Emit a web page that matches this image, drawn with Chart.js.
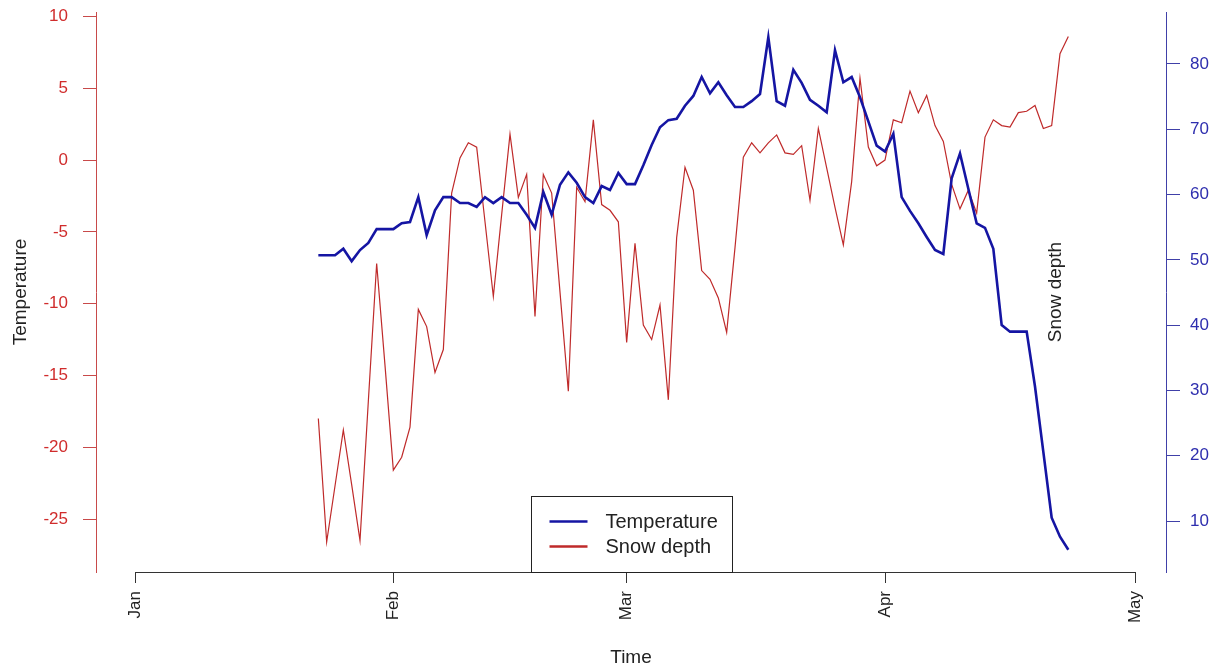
<!DOCTYPE html>
<html><head><meta charset="utf-8">
<script src="https://cdn.jsdelivr.net/npm/chart.js@4/dist/chart.umd.min.js"></script>
<style>html,body{margin:0;padding:0;background:#fff;}#wrap{width:1226px;height:669px;}</style>
</head><body><div id="wrap"><canvas id="c" width="1226" height="669"></canvas></div>
<script>
// ---- data ----
const monthLabels = ['Jan', 'Feb', 'Mar', 'Apr', 'May'];
const monthTickDays = [0, 31, 59, 90, 120];   // days after Jan 1
const firstDay = 22;                          // Jan 23 = first observation
const leftTicks = [-25, -20, -15, -10, -5, 0, 5, 10];
const rightTicks = [10, 20, 30, 40, 50, 60, 70, 80];

// blue series (legend "Temperature"), plotted on the right axis
const blueValues = [
  50.7,50.7,50.7,51.7,49.8,51.5,52.6,54.7,54.7,54.7,
  55.6,55.8,59.6,53.8,57.6,59.6,59.6,58.7,58.7,58.1,
  59.6,58.7,59.6,58.7,58.7,56.9,54.9,60.4,56.9,61.5,
  63.4,61.8,59.6,58.7,61.3,60.7,63.3,61.6,61.6,64.5,
  67.6,70.3,71.4,71.6,73.6,75.1,78.0,75.5,77.2,75.2,
  73.4,73.4,74.3,75.4,84.1,74.3,73.6,79.1,77.1,74.5,
  73.6,72.6,82.1,77.2,78.0,74.9,71.2,67.5,66.6,69.3,
  59.6,57.5,55.6,53.5,51.5,50.9,62.5,66.3,60.9,55.6,
  54.9,51.7,40.0,39.0,39.0,39.0,30.6,20.6,10.5,7.6,
  5.6
];
// red series (legend "Snow depth"), plotted on the left axis
const redValues = [
  -18.0,-26.6,-22.7,-18.8,-22.6,-26.5,-16.8,-7.2,-14.3,-21.6,
  -20.7,-18.6,-10.4,-11.6,-14.8,-13.2,-2.3,0.15,1.2,0.9,
  -4.3,-9.5,-3.8,1.8,-2.6,-1.0,-10.9,-1.0,-2.3,-9.2,
  -16.1,-1.9,-2.9,2.8,-3.1,-3.5,-4.3,-12.7,-5.8,-11.5,
  -12.5,-10.1,-16.7,-5.4,-0.5,-2.1,-7.7,-8.3,-9.6,-12.0,
  -6.1,0.2,1.2,0.5,1.2,1.75,0.5,0.4,1.0,-2.8,
  2.2,-0.55,-3.3,-5.9,-1.5,5.7,0.9,-0.4,0.0,2.8,
  2.6,4.8,3.3,4.5,2.4,1.3,-1.7,-3.4,-2.1,-3.7,
  1.6,2.8,2.4,2.3,3.3,3.4,3.8,2.2,2.4,7.4,
  8.6
];

// ---- styles ----
const FONT = '"Liberation Sans", Arial, Helvetica, sans-serif';
const TICK_SIZE = 17;
const TITLE_SIZE = 19;
const LEGEND_SIZE = 20;
const BLUE = '#1515A3';
const RED = '#BF2A2A';
const RED_AXIS = '#C84A4A';
const RED_TXT = '#D02C2C';
const BLUE_AXIS = '#4040A8';
const BLUE_TXT = '#2E2EAE';

const toPts = vals => vals.map((v, i) => ({x: firstDay + i, y: v}));
const noPad = s => { s.paddingTop = 0; s.paddingBottom = 0; s.paddingLeft = 0; s.paddingRight = 0; };

const overlay = {
  id: 'overlay',
  afterDraw(chart) {
    const {ctx, chartArea: a, scales: {x}} = chart;
    ctx.save();
    // x axis line between first and last month tick
    ctx.strokeStyle = '#333';
    ctx.lineWidth = 1;
    const yb = Math.round(a.bottom) + 0.5;
    ctx.beginPath();
    ctx.moveTo(x.getPixelForValue(monthTickDays[0]), yb);
    ctx.lineTo(x.getPixelForValue(monthTickDays[monthTickDays.length - 1]), yb);
    ctx.stroke();
    ctx.restore();

    // right-axis title (drawn inside the plot as in the original)
    ctx.save();
    ctx.fillStyle = '#222';
    ctx.font = TITLE_SIZE + 'px ' + FONT;
    ctx.translate(a.right - 110, (a.top + a.bottom) / 2);
    ctx.rotate(-Math.PI / 2);
    ctx.textAlign = 'center';
    ctx.textBaseline = 'middle';
    ctx.fillText('Snow depth', 0, 0);
    ctx.restore();

    // legend box
    ctx.save();
    const w = 201, h = 76;
    const x0 = Math.round((a.left + a.right) / 2 - w / 2) + 0.5;
    const y0 = Math.round(a.bottom - h) + 0.5;
    ctx.fillStyle = '#fff';
    ctx.fillRect(x0, y0, w, h);
    ctx.strokeStyle = '#222';
    ctx.lineWidth = 1;
    ctx.strokeRect(x0, y0, w, h);
    ctx.font = LEGEND_SIZE + 'px ' + FONT;
    ctx.textBaseline = 'middle';
    ctx.textAlign = 'left';
    chart.data.datasets.forEach((ds, k) => {
      const yy = y0 + 25 + k * 25;
      ctx.strokeStyle = ds.borderColor;
      ctx.lineWidth = 2.5;
      ctx.beginPath();
      ctx.moveTo(x0 + 18, yy);
      ctx.lineTo(x0 + 56, yy);
      ctx.stroke();
      ctx.fillStyle = '#222';
      ctx.fillText(ds.label, x0 + 74, yy + 1);
    });
    ctx.restore();
  }
};

new Chart(document.getElementById('c'), {
  type: 'line',
  data: {
    datasets: [
      {label: 'Temperature', data: toPts(blueValues), yAxisID: 'y2',
       borderColor: BLUE, borderWidth: 2.6, pointRadius: 0, tension: 0},
      {label: 'Snow depth', data: toPts(redValues), yAxisID: 'y',
       borderColor: RED, borderWidth: 1.2, pointRadius: 0, tension: 0}
    ]
  },
  options: {
    responsive: false,
    animation: false,
    events: [],
    layout: {autoPadding: false, padding: {top: 12, left: 0, right: 0, bottom: 0}},
    plugins: {legend: {display: false}, tooltip: {enabled: false}},
    scales: {
      x: {
        type: 'linear',
        min: -4.68, max: 123.72,
        afterFit(s) { s.height = 97; noPad(s); },
        afterBuildTicks(s) { s.ticks = monthTickDays.map(v => ({value: v})); },
        border: {display: false},
        grid: {drawOnChartArea: false, drawTicks: true, tickLength: 11, color: '#333'},
        ticks: {
          autoSkip: false, minRotation: 90, maxRotation: 90, padding: 8,
          color: '#222', font: {family: FONT, size: TICK_SIZE},
          callback: v => monthLabels[monthTickDays.indexOf(v)]
        },
        title: {display: true, text: 'Time', color: '#222',
                font: {family: FONT, size: TITLE_SIZE}, padding: {top: 0, bottom: 0}}
      },
      y: {
        position: 'left',
        min: -28.69, max: 10.31,
        afterFit(s) { s.width = 96; noPad(s); },
        afterBuildTicks(s) { s.ticks = leftTicks.map(v => ({value: v})); },
        border: {display: true, color: RED_AXIS, width: 1},
        grid: {drawOnChartArea: false, drawTicks: true, tickLength: 13, color: RED_AXIS},
        ticks: {color: RED_TXT, padding: 15, font: {family: FONT, size: TICK_SIZE}},
        title: {display: true, text: 'Temperature', color: '#222',
                font: {family: FONT, size: TITLE_SIZE}, padding: {top: 9, bottom: 0}}
      },
      y2: {
        position: 'right',
        min: 2.19, max: 87.96,
        afterFit(s) { s.width = 60; noPad(s); },
        afterBuildTicks(s) { s.ticks = rightTicks.map(v => ({value: v})); },
        border: {display: true, color: BLUE_AXIS, width: 1},
        grid: {drawOnChartArea: false, drawTicks: true, tickLength: 14, color: BLUE_AXIS},
        ticks: {color: BLUE_TXT, padding: 10, font: {family: FONT, size: TICK_SIZE}}
      }
    }
  },
  plugins: [overlay]
});
</script>
</body></html>
